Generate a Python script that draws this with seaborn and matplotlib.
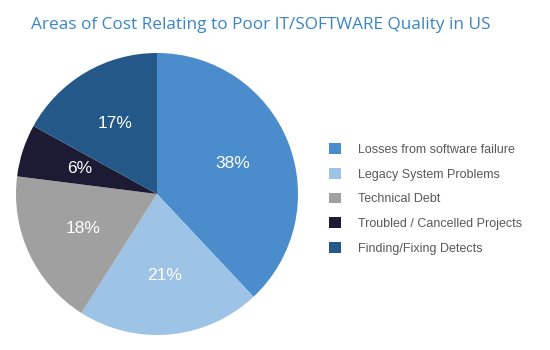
import matplotlib
matplotlib.use("Agg")
import matplotlib.pyplot as plt
import seaborn as sns
from matplotlib.patches import Patch

categories = ["Losses from software failure", "Legacy System Problems", "Technical Debt",
              "Troubled / Cancelled Projects", "Finding/Fixing Detects"]
values = [38, 21, 18, 6, 17]
colors = ["#4a8ccc", "#9dc3e6", "#a0a0a0", "#1c1b33", "#245888"]
title = "Areas of Cost Relating to Poor IT/SOFTWARE Quality in US"

sns.set_theme(style="white")
plt.rcParams['font.family'] = ['Liberation Sans', 'DejaVu Sans']
palette = sns.color_palette(colors)

fig = plt.figure(figsize=(5.5, 3.5), dpi=100)
ax = fig.add_axes([(157 - 141) / 550, (350 - 194 - 141) / 350, 282 / 550, 282 / 350])
wedges, texts, autotexts = ax.pie(values, colors=palette, startangle=90, counterclock=False,
                                  autopct=lambda p: f"{p:.0f}%", pctdistance=0.58,
                                  textprops=dict(color="white", fontsize=12.5),
                                  wedgeprops=dict(linewidth=0))
ax.set_xlim(-1, 1)
ax.set_ylim(-1, 1)
ax.set_aspect("equal")
ax.axis("off")

fig.text(261 / 550, 1 - 25 / 350, title, ha="center", va="center", color="#3a85c8",
         fontsize=12.4, family=["Open Sans", "DejaVu Sans"])

handles = [Patch(facecolor=c, edgecolor="none") for c in palette]
fig.legend(handles, categories, loc="upper left", bbox_to_anchor=(318 / 550, 1 - 132 / 350),
           frameon=False, fontsize=9, handlelength=0.95, handleheight=0.95,
           handletextpad=1.35, labelspacing=0.96, labelcolor="#595959")

fig.savefig("out.png", dpi=100, facecolor="white")
